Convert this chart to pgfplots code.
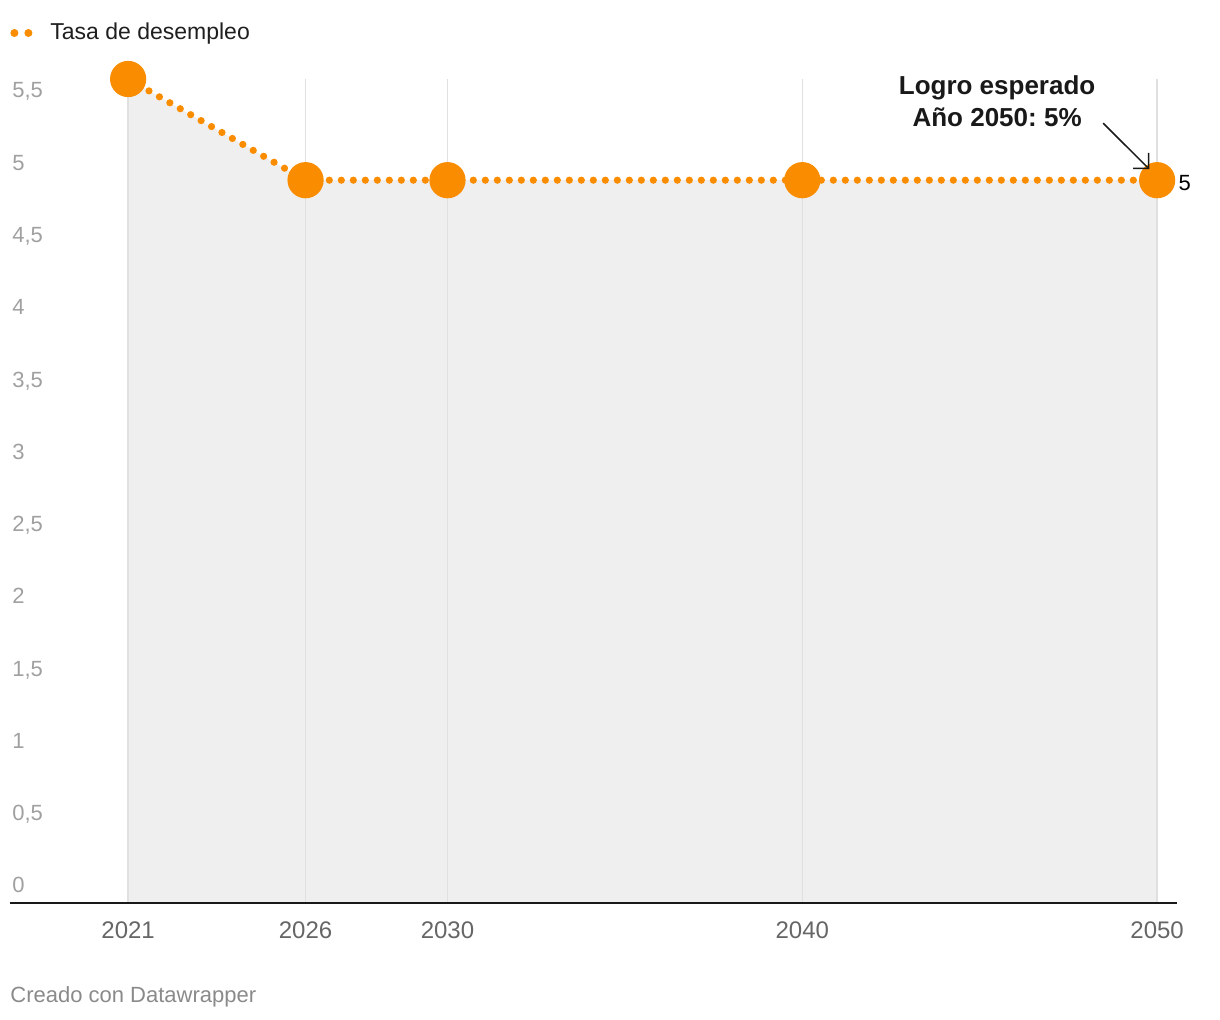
\documentclass[border=0pt]{standalone}
\usepackage{pgfplots}
\pgfplotsset{compat=1.18}
\usepackage{fontspec}
\setmainfont{Liberation Sans}
\usetikzlibrary{arrows.meta}
\definecolor{dwor}{HTML}{FA8C00}
\definecolor{areafill}{HTML}{EFEFEF}
\definecolor{gridc}{HTML}{E0E0E0}
\definecolor{ylab}{HTML}{A0A0A0}
\definecolor{xlab}{HTML}{666666}
\definecolor{foot}{HTML}{8A8A8A}
\frenchspacing
\begin{document}
\begin{tikzpicture}
\begin{axis}[
  name=ax, set layers, scale only axis,
  width=583.5pt, height=412pt,
  xmin=2017.67, xmax=2050.56, ymin=0, ymax=5.70,
  clip=false,
  axis x line*=bottom, axis y line*=left,
  x axis line style={-, draw=black!90, line width=1.25pt},
  y axis line style={draw=none},
  xtick={2021,2026,2030,2040,2050},
  xticklabels={2021,2026,2030,2040,2050},
  ytick={0,0.5,1,1.5,2,2.5,3,3.5,4,4.5,5,5.5},
  yticklabels={0,{0,5},1,{1,5},2,{2,5},3,{3,5},4,{4,5},5,{5,5}},
  major tick length=0pt,
  xmajorgrids, ymajorgrids=false,
  grid style={gridc, line width=0.75pt},
  xticklabel style={font=\fontsize{12}{14}\selectfont, text=xlab, anchor=north, yshift=-6pt},
  yticklabel style={font=\fontsize{11}{13}\selectfont, text=ylab, anchor=base west, inner sep=0pt, xshift=1pt, yshift=5pt},
  legend style={at={(0,1)}, anchor=west, yshift=23pt, draw=none, fill=none,
    inner sep=0pt, column sep=9pt, font=\fontsize{11.5}{14}\selectfont, text=black!88,
    nodes={inner sep=0pt}},
  legend image code/.code={
    \path[draw=none, fill=dwor, solid, line width=0pt] (2pt,0pt) circle[radius=2pt];
    \path[draw=none, fill=dwor, solid, line width=0pt] (9pt,0pt) circle[radius=2pt];},
]
\addplot[draw=none, fill=areafill, on layer=axis background, forget plot]
  coordinates {(2021,5.7) (2026,5) (2030,5) (2040,5) (2050,5)} \closedcycle;
\addplot[dwor, line width=3.6pt, dash pattern=on 0pt off 6pt, line cap=round,
  mark=*, mark size=7.25pt, mark options={solid, fill=dwor, draw=none}]
  coordinates {(2021,5.7) (2026,5) (2030,5) (2040,5) (2050,5)};
\addlegendentry{Tasa de desempleo}
\node[font=\bfseries\fontsize{13}{16}\selectfont, align=center, text=black!90]
  at (axis cs:2045.49,5.546) {Logro esperado\\Año 2050: 5\%};
\node[anchor=west, inner sep=0pt, font=\fontsize{11}{13}\selectfont, xshift=10.5pt, yshift=-1.5pt]
  at (axis cs:2050,5) {5};
\node[anchor=west, inner sep=0pt, text=foot, font=\fontsize{11}{13}\selectfont, yshift=-47pt]
  at (rel axis cs:0,0) {Creado con Datawrapper};
\begin{pgfonlayer}{axis foreground}
\draw[-{Straight Barb[length=5.5pt,width=11pt]}, line width=0.75pt, black!90]
  (axis cs:2048.48,5.394) -- (axis cs:2049.78,5.076);
\end{pgfonlayer}
\end{axis}
\path ([xshift=-5pt,yshift=-58.5pt]ax.south west) rectangle ([xshift=21.5pt,yshift=39.5pt]ax.north east);
\end{tikzpicture}
\end{document}
